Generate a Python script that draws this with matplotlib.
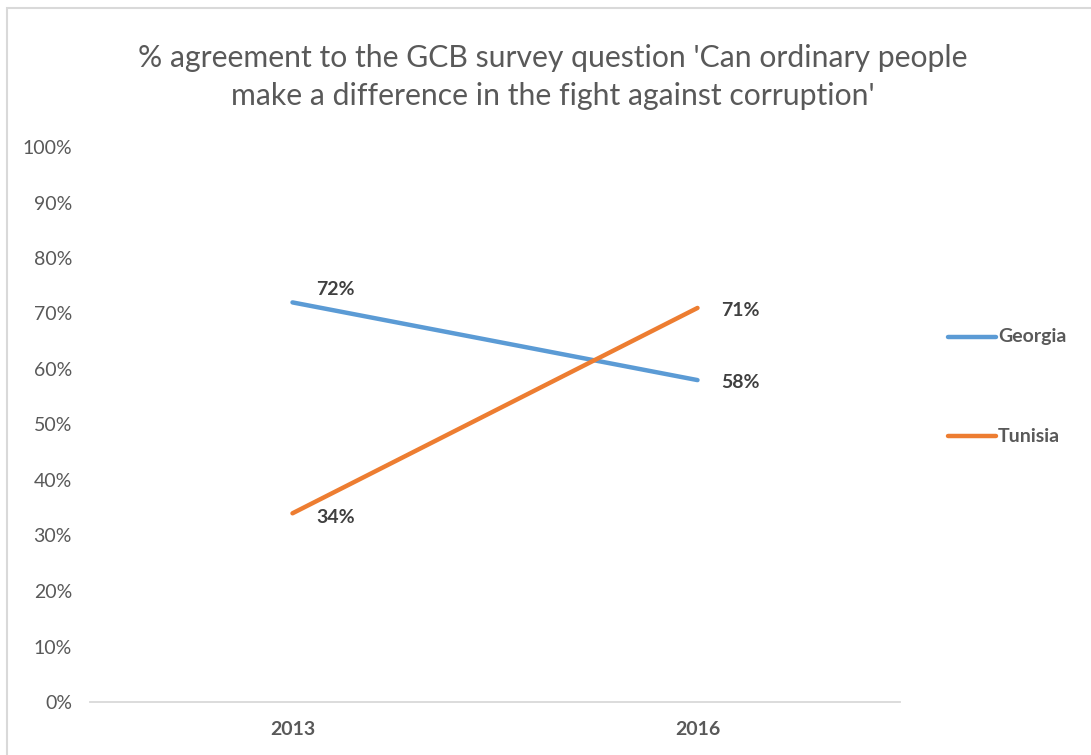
import matplotlib
matplotlib.use("Agg")
import matplotlib.pyplot as plt
from matplotlib.patches import Rectangle

years = ["2013", "2016"]
georgia = [72, 58]
tunisia = [34, 71]
georgia_labels = ["72%", "58%"]
tunisia_labels = ["34%", "71%"]
yticks = [0, 10, 20, 30, 40, 50, 60, 70, 80, 90, 100]
title = "% agreement to the GCB survey question 'Can ordinary people\nmake a difference in the fight against corruption'"

plt.rcParams['font.family'] = ['Lato', 'DejaVu Sans']
GRAY = "#595959"
BLUE = "#5B9BD5"
ORANGE = "#ED7D31"

W, H = 1091, 755
fig = plt.figure(figsize=(W / 100, H / 100), dpi=100)
fig.patches.append(Rectangle((7 / W, -0.2), 1.5, 1.2 - 8 / H, transform=fig.transFigure,
                             fill=False, edgecolor="#D9D9D9", linewidth=1.5))

ax = fig.add_axes([90 / W, 1 - 702 / H, (900 - 90) / W, (702 - 147) / H])
x = [0, 1]
ax.plot(x, georgia, color=BLUE, lw=3.2, solid_capstyle="round")
ax.plot(x, tunisia, color=ORANGE, lw=3.2, solid_capstyle="round")
ax.set_xlim(-0.5, 1.5)
ax.set_ylim(0, 100)
ax.set_xticks(x)
ax.set_xticklabels(years, fontweight="bold", color=GRAY, fontsize=14)
ax.set_yticks(yticks)
ax.set_yticklabels([f"{v}%" for v in yticks], color=GRAY, fontsize=14)
ax.tick_params(length=0)
ax.tick_params(axis="x", pad=14)
ax.tick_params(axis="y", pad=13)
for s in ["top", "right", "left"]:
    ax.spines[s].set_visible(False)
ax.spines["bottom"].set_color("#D9D9D9")
ax.spines["bottom"].set_linewidth(1.3)

offsets = {("g", 0): (17, 9), ("g", 1): (17, -2), ("t", 0): (17, -3), ("t", 1): (17, -2)}
for i in x:
    ax.annotate(georgia_labels[i], (i, georgia[i]), xytext=offsets[("g", i)], textcoords="offset points",
                ha="left", va="center", fontweight="bold", color="#404040", fontsize=14)
    ax.annotate(tunisia_labels[i], (i, tunisia[i]), xytext=offsets[("t", i)], textcoords="offset points",
                ha="left", va="center", fontweight="bold", color="#404040", fontsize=14)

# legend
for name, col, yy in [("Georgia", BLUE, 337), ("Tunisia", ORANGE, 436)]:
    fig.add_artist(plt.Line2D([948 / W, 996 / W], [1 - yy / H, 1 - yy / H], transform=fig.transFigure,
                              color=col, lw=3.2, solid_capstyle="round"))
    fig.text(998 / W, 1 - yy / H, name, ha="left", va="center", fontweight="bold", color=GRAY, fontsize=14)

fig.text(553 / W, 1 - 77 / H, title, ha="center", va="center", color=GRAY, fontsize=21.7, linespacing=1.45)

fig.savefig("out.png", dpi=100, facecolor="white")
